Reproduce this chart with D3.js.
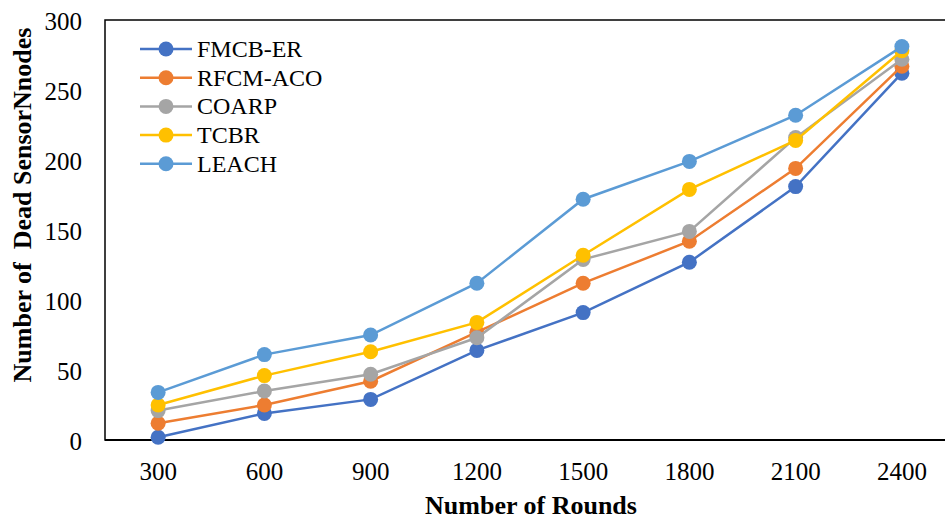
<!DOCTYPE html>
<html><head><meta charset="utf-8">
<script src="https://cdn.jsdelivr.net/npm/d3@7"></script>
<style>body{margin:0;background:#fff}svg{display:block}svg text{font-family:"Liberation Serif","Times New Roman",Tinos,"DejaVu Serif",serif}</style>
</head><body>
<script>
const rounds = ["300","600","900","1200","1500","1800","2100","2400"];
const seriesNames = ["FMCB-ER","RFCM-ACO","COARP","TCBR","LEACH"];
const fmcbEr  = [2, 19, 29, 64, 91, 127, 181, 262];
const rfcmAco = [12, 25, 42, 77, 112, 142, 194, 267];
const coarp   = [21, 35, 47, 73, 129, 149, 216, 272];
const tcbr    = [25, 46, 63, 84, 132, 179, 214, 278];
const leach   = [34, 61, 75, 112, 172, 199, 232, 281];
const yTicks  = [0, 50, 100, 150, 200, 250, 300];
const colors  = ["#4472C4","#ED7D31","#A5A5A5","#FFC000","#5B9BD5"];

const series = [fmcbEr, rfcmAco, coarp, tcbr, leach].map((v,i)=>({name:seriesNames[i], values:v, color:colors[i]}));

const W=945,H=520;
const svg=d3.select("body").append("svg").attr("width",W).attr("height",H);

const x=d3.scaleBand().domain(rounds).range([105,955]);
const y=d3.scaleLinear().domain([0,300]).range([440,20]);
const cx=d=>x(d)+x.bandwidth()/2;

// frame
svg.append("rect").attr("x",105).attr("y",20).attr("width",860).attr("height",420)
  .attr("fill","none").attr("stroke","#000").attr("stroke-width",1.5);
svg.append("line").attr("x1",105).attr("x2",955).attr("y1",440).attr("y2",440).attr("stroke","#000").attr("stroke-width",2.2);

// y axis
const yAxis=d3.axisLeft(y).tickValues(yTicks).tickSize(0).tickPadding(0).tickFormat(d3.format("d"));
const yg=svg.append("g").attr("transform","translate(82,1)").call(yAxis);
yg.select(".domain").remove();
yg.attr("font-family",null);
yg.selectAll("text").attr("font-size",25).attr("fill","#000");

// x axis
const xAxis=d3.axisBottom(x).tickSize(0).tickPadding(0);
const xg=svg.append("g").attr("transform","translate(0,462)").call(xAxis);
xg.select(".domain").remove();
xg.attr("font-family",null);
xg.selectAll("text").attr("font-size",25).attr("fill","#000");

// titles
svg.append("text").attr("x",531).attr("y",514).attr("text-anchor","middle")
  .attr("font-size",26).attr("font-weight","bold").text("Number of Rounds");
svg.append("text").attr("transform","translate(31,205) rotate(-90)").attr("text-anchor","middle")
  .attr("font-size",26).attr("font-weight","bold")
  .style("white-space","pre").text("Number of  Dead SensorNnodes");

// lines
const line=d3.line().x((d,i)=>cx(rounds[i])).y(d=>y(d));
series.forEach(s=>{
  const g=svg.append("g");
  g.append("path").attr("d",line(s.values)).attr("fill","none").attr("stroke",s.color).attr("stroke-width",2.5);
  g.selectAll("circle").data(s.values).join("circle")
    .attr("cx",(d,i)=>cx(rounds[i])).attr("cy",d=>y(d)).attr("r",7.5).attr("fill",s.color);
});

// legend
const lg=svg.append("g");
series.forEach((s,i)=>{
  const yy=49+i*28.7;
  lg.append("line").attr("x1",140).attr("x2",192).attr("y1",yy).attr("y2",yy).attr("stroke",s.color).attr("stroke-width",2.5);
  lg.append("circle").attr("cx",166).attr("cy",yy).attr("r",7.5).attr("fill",s.color);
  lg.append("text").attr("x",197).attr("y",yy+8).attr("font-size",24).attr("fill","#000").text(s.name);
});
</script>
</body></html>
